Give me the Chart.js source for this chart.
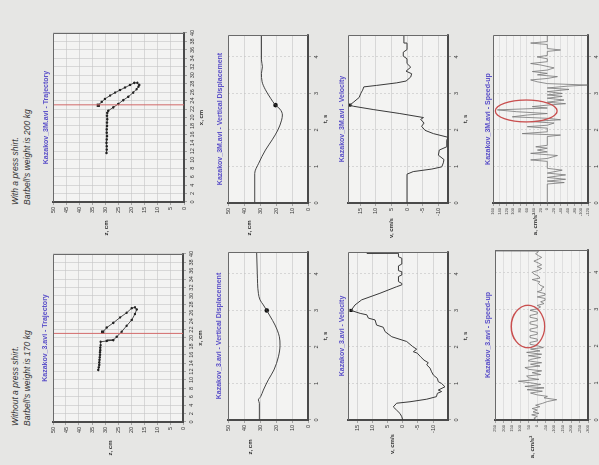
<!DOCTYPE html>
<html>
<head>
<meta charset="utf-8">
<title>Kazakov bench press - trajectory, displacement, velocity, speed-up</title>
<script src="https://cdn.jsdelivr.net/npm/chart.js@4.4.1/dist/chart.umd.min.js"></script>
<style>
  html, body { margin: 0; padding: 0; }
  body { width: 599px; height: 465px; overflow: hidden; position: relative; background: #e6e6e4;
         font-family: "Liberation Sans", Arial, sans-serif; }
  .rot { position: absolute; transform-origin: 0 0; }
  .rot canvas { position: absolute; left: 0; top: 0; }
  .lbl { position: absolute; transform: translate(-50%, -50%); white-space: nowrap; line-height: 1; }
  .ttl { color: #5a4fc8; font-size: 7px; font-weight: bold; }
  .axt { color: #333; font-size: 6px; font-weight: bold; }
  .note { position: absolute; left: 0; font-style: italic; font-size: 8.5px; line-height: 10px; color: #333; white-space: nowrap; }
</style>
</head>
<body>
<script>
/* Scanned page, turned a quarter turn: every panel is drawn upright and then
   rotated -90deg, so "x" of each chart runs bottom-to-top on the page. */

// ---- shared ticks ----
const trajXTicks = [0, 2, 4, 6, 8, 10, 12, 14, 16, 18, 20, 22, 24, 26, 28, 30, 32, 34, 36, 38, 40];
const trajZTicks = [0, 5, 10, 15, 20, 25, 30, 35, 40, 45, 50];
const vdZTicks = [0, 10, 20, 30, 40, 50];
const tTicks = [0, 1, 2, 3, 4];
const velTicks = [-10, -5, 0, 5, 10, 15];
const T_MAX = 4.6;

// ---- with a press shirt: Kazakov_3M.avi, 200 kg ----
const traj3M_x = [11.6, 12.4, 13.2, 14.0, 14.8, 15.6, 16.4, 17.2, 18.0, 18.8, 19.6, 20.4, 21.1, 21.6,
                  22.4, 23.2, 24.1, 24.9, 25.9, 26.7, 27.3, 27.7, 28.2, 28.2, 27.7, 27.1, 26.5, 25.9,
                  25.2, 24.4, 23.7, 22.9];
const traj3M_z = [29.6, 29.5, 29.5, 29.6, 29.5, 29.4, 29.5, 29.5, 29.4, 29.4, 29.3, 29.4, 29.3, 28.9,
                  27.0, 25.1, 23.2, 21.3, 19.4, 18.1, 17.4, 17.1, 17.8, 19.0, 20.6, 22.5, 24.4, 26.3,
                  28.2, 30.2, 31.4, 32.7];
const cut3M_x = 23;

const vd3M_t = [0, 0.81, 1.09, 1.45, 1.73, 2.0, 2.27, 2.41, 2.57, 2.68, 2.87, 3.1, 3.32, 3.55, 3.73, 3.92, 4.6];
const vd3M_z = [33.3, 33.3, 30.8, 26.6, 22.4, 18.8, 16.5, 16.0, 17.5, 20.3, 23.4, 26.6, 28.7, 29.1, 28.5, 29.1, 29.1];

const vel3M_t = [0, 0.79, 0.86, 0.93, 0.99, 1.1, 1.19, 1.31, 1.45, 1.54,
                 1.72, 1.8, 1.9, 1.99, 2.1, 2.19, 2.29, 2.34, 2.45, 2.56,
                 2.65, 2.68, 2.77, 2.89, 3.0, 3.09, 3.18, 3.22, 3.29, 3.34,
                 3.45, 3.54, 3.61, 3.72, 3.82, 3.95, 4.02, 4.13, 4.2, 4.36,
                 4.38, 4.6];
const vel3M_v = [0, 0, -2.0, -8.0, -11.2, -11.7, -11.9, -10.1, -10.4, -12.8,
                 -12.8, -13.2, -8.5, -5.8, -4.7, -5.5, -4.4, -5.3, 2.3, 10.9,
                 17.3, 18.4, 17.1, 15.4, 14.9, 14.3, 13.9, 9.8, 3.3, 0.3,
                 -1.2, -1.5, 0.3, -1.2, 0, 0, 1.2, 1.2, 0, 0,
                 1.0, 1.0];
const vel3M_range = [-13.2, 19.0];

const acc3M_t = [0, 0.52, 0.56, 0.6, 0.65, 0.7, 0.77, 0.82, 0.9, 0.95,
                 1.14, 1.18, 1.22, 1.3, 1.36, 1.4, 1.45, 1.5, 1.54, 1.58,
                 1.82, 1.86, 1.9, 1.95, 2.05, 2.09, 2.13, 2.19, 2.23, 2.28,
                 2.32, 2.36, 2.41, 2.45, 2.5, 2.55, 2.6, 2.64, 2.68, 2.72,
                 2.76, 2.82, 2.87, 2.92, 2.96, 3.0, 3.05, 3.11, 3.15, 3.2,
                 3.23, 3.27, 3.32, 3.37, 3.41, 3.46, 3.51, 3.55, 3.6, 3.64,
                 3.7, 3.78, 3.82, 3.87, 3.95, 4.0, 4.04, 4.15, 4.19, 4.23,
                 4.34, 4.38, 4.42, 4.6];
const acc3M_a = [0, 0, -50, 0, -54, 0, -54, 0, -44, 0,
                 0, 49, 0, -30, 49, 0, 29, 0, 34, 0,
                 0, -39, 74, 0, 0, 59, 0, -20, 49, -39,
                 0, 103, 59, 0, 90, 147, 0, 44, 0, -54,
                 0, -49, 0, -44, 0, -44, 0, -64, 0, -60,
                 -118, 0, 30, 49, 0, -30, 29, 0, 44, 0,
                 -20, 20, 49, 0, 0, 30, 0, 0, -39, 0,
                 0, 49, 0, 0];
const acc3MTicks = [-120, -100, -80, -60, -40, -20, 0, 20, 40, 60, 80, 100, 120, 140, 160];

const peak3M = { t: 2.68, z: 20.3, v: 18.4 };
const ring3M = { t: 2.52, tr: 0.30, a: 62, ar: 91 };

// ---- without a press shirt: Kazakov_3.avi, 170 kg ----
const traj3_x = [12.4, 13.0, 13.6, 14.2, 14.8, 15.4, 16.0, 16.6, 17.1, 17.7, 18.3, 19.1, 19.3, 19.5,
                 20.3, 21.5, 22.9, 24.3, 25.7, 26.8, 27.3, 27.1, 26.0, 24.9, 23.6, 22.5, 21.4];
const traj3_z = [32.6, 32.4, 32.2, 32.2, 32.1, 32.0, 31.9, 31.9, 31.8, 31.8, 31.7, 31.7, 29.3, 26.8,
                 25.5, 23.6, 21.7, 19.7, 18.5, 17.8, 18.5, 19.7, 21.7, 24.2, 26.8, 29.3, 30.9];
const cut3_x = 21.1;

const vd3_t = [0, 0.46, 0.55, 0.64, 0.82, 1.1, 1.37, 1.73, 2.05, 2.28, 2.6, 2.85, 3.0, 3.15, 3.29, 3.47, 4.02, 4.6];
const vd3_z = [30.4, 30.4, 31.0, 29.6, 27.9, 24.8, 21.3, 18.5, 17.5, 17.9, 20.6, 23.8, 25.8, 27.9, 30.0, 31.0, 31.7, 32.1];

const vel3_t = [0, 0.09, 0.18, 0.27, 0.36, 0.46, 0.5, 0.57, 0.64, 0.73,
                0.78, 0.82, 0.91, 1.0, 1.05, 1.14, 1.23, 1.32, 1.42, 1.51,
                1.57, 1.64, 1.73, 1.83, 1.87, 1.94, 2.01, 2.15, 2.28, 2.42,
                2.54, 2.6, 2.74, 2.79, 2.88, 2.92, 3.0, 3.15, 3.29, 3.47,
                3.65, 3.7, 3.74, 3.79, 3.93, 3.97, 4.06, 4.09, 4.22, 4.27,
                4.43, 4.47, 4.55, 4.565, 4.58, 4.6];
const vel3_v = [0, 0.3, 0.9, 2.0, 3.1, 2.0, -2.4, -7.9, -11.1, -11.4,
                -12.8, -11.7, -13.9, -12.8, -11.7, -11.4, -10.1, -9.5, -9.0, -7.9,
                -8.4, -7.0, -5.9, -4.8, -3.5, -4.6, -3.3, -1.3, 3.6, 5.8,
                6.4, 8.6, 9.1, 11.3, 11.8, 14.0, 17.0, 15.7, 13.5, 7.5,
                2.0, 0.3, 0.3, 1.4, 1.4, 0.3, 0.3, 1.4, 1.4, 0.3,
                0.3, 1.4, 1.4, 11.8, 1.4, 1.4];
const vel3_range = [-14.9, 18.0];

const acc3_t = [0, 0.05, 0.1, 0.14, 0.18, 0.22, 0.27, 0.31, 0.36, 0.4,
                0.45, 0.5, 0.55, 0.6, 0.64, 0.68, 0.73, 0.78, 0.82, 0.87,
                0.91, 0.96, 1.0, 1.05, 1.1, 1.14, 1.19, 1.23, 1.28, 1.33,
                1.37, 1.42, 1.46, 1.51, 1.55, 1.6, 1.64, 1.69, 1.74, 1.78,
                1.83, 1.87, 1.92, 1.96, 2.01, 2.05, 2.1, 2.14, 2.19, 2.23,
                2.28, 2.32, 2.37, 2.41, 2.46, 2.5, 2.56, 2.6, 2.65, 2.69,
                2.74, 2.78, 2.83, 2.87, 2.92, 2.97, 3.01, 3.06, 3.1, 3.15,
                3.2, 3.24, 3.29, 3.33, 3.38, 3.42, 3.47, 3.51, 3.56, 3.6,
                3.65, 3.7, 3.74, 3.8, 3.84, 3.9, 3.95, 4.0, 4.05, 4.1,
                4.15, 4.2, 4.25, 4.3, 4.35, 4.4, 4.45, 4.5, 4.55, 4.57,
                4.58, 4.59, 4.6];
const acc3_a = [0, 20, 0, 33, -10, 25, 0, 30, -15, 10,
                -30, -60, -115, -40, -60, 0, 40, -30, 60, -40,
                73, -20, 30, 112, -10, 50, 63, -20, 30, -26,
                50, 73, -16, 40, -26, 53, 40, -20, 53, -26,
                63, -16, 40, -36, 0, 43, 43, 0, 0, 43,
                43, 0, 0, 43, 43, 0, 0, 43, 43, 0,
                0, 43, 43, 0, 0, 43, 0, -20, 0, -40,
                -20, -46, -46, 0, -46, -46, 0, -26, -26, -40,
                -16, -6, -16, 30, -16, -6, 20, 30, -6, -26,
                0, -26, -6, 20, -6, -26, -6, 10, -6, 0,
                600, -600, 0];
const acc3Ticks = [-300, -250, -200, -150, -100, -50, 0, 50, 100, 150, 200, 250];

const peak3 = { t: 3.0, z: 25.8, v: 17.0 };
const ring3 = { t: 2.53, tr: 0.575, a: 55, ar: 99 };

// ---------------------------------------------------------------------------
Chart.defaults.font.family = '"Liberation Sans", Arial, sans-serif';
Chart.defaults.animation = false;

function pts(xs, ys) { return xs.map((x, i) => ({ x, y: ys[i] })); }

function addLabel(parent, cls, text, u, v) {
  const d = document.createElement('div');
  d.className = 'lbl ' + cls;
  d.textContent = text;
  d.style.left = u + 'px';
  d.style.top = v + 'px';
  parent.appendChild(d);
}

// box: page rect of the rotated panel (L,T and its page height W, page width H)
// plot: page rect of the plotting area
function panel(box, plot, txt) {
  const div = document.createElement('div');
  div.className = 'rot';
  div.style.left = box.L + 'px';
  div.style.top = box.T + 'px';
  div.style.width = box.W + 'px';
  div.style.height = box.H + 'px';
  div.style.transform = `translateY(${box.W}px) rotate(-90deg)`;
  const cv = document.createElement('canvas');
  cv.width = box.W; cv.height = box.H;
  div.appendChild(cv);
  const p = {
    cv, W: box.W, H: box.H,
    a1: box.T + box.W - plot.y2, a2: box.T + box.W - plot.y1,
    b1: plot.x1 - box.L, b2: plot.x2 - box.L
  };
  const uMid = (p.a1 + p.a2) / 2;
  addLabel(div, 'ttl', txt.title, uMid, txt.titleX - box.L);
  addLabel(div, 'axt', txt.xTitle, uMid, p.b2 + 17);
  addLabel(div, 'axt', txt.yTitle, p.a1 - txt.yOff, txt.yTitleX - box.L);
  document.body.appendChild(div);
  return p;
}

function note(L, T, W, lines) {
  const div = document.createElement('div');
  div.className = 'rot';
  div.style.left = L + 'px';
  div.style.top = T + 'px';
  div.style.width = W + 'px';
  div.style.height = '30px';
  div.style.transform = `translateY(${W}px) rotate(-90deg)`;
  lines.forEach((s, i) => {
    const d = document.createElement('div');
    d.className = 'note';
    d.style.top = (4 + i * 12) + 'px';
    d.textContent = s;
    div.appendChild(d);
  });
  document.body.appendChild(div);
}

function axis(min, max, ticks, o = {}) {
  return {
    type: 'linear', min, max,
    afterBuildTicks: s => { s.ticks = ticks.map(v => ({ value: v })); },
    ticks: { font: { size: o.font || 5.5 }, color: '#3a3a3a', padding: 2,
             maxRotation: 0, minRotation: 0, autoSkip: false },
    grid: { color: o.grid || '#c4c4c4', lineWidth: 0.6, tickLength: 3, tickColor: '#777', tickWidth: 0.6 },
    border: { color: '#4a4a4a', width: 2, dash: o.dash || [] }
  };
}

const sheet = {
  id: 'sheet',
  beforeDraw(c) {
    const a = c.chartArea, ctx = c.ctx;
    ctx.save();
    ctx.fillStyle = '#f3f3f2';
    ctx.fillRect(a.left, a.top, a.right - a.left, a.bottom - a.top);
    ctx.restore();
  },
  afterDraw(c) {
    const a = c.chartArea, ctx = c.ctx;
    ctx.save();
    ctx.strokeStyle = '#6a6a6a';
    ctx.lineWidth = 1;
    ctx.beginPath();
    ctx.moveTo(a.left, a.top + 0.5); ctx.lineTo(a.right - 0.5, a.top + 0.5); ctx.lineTo(a.right - 0.5, a.bottom);
    ctx.stroke();
    ctx.restore();
  }
};

function ringPlugin(r) {
  return {
    id: 'ring',
    afterDatasetsDraw(c) {
      const xs = c.scales.x, ys = c.scales.y, ctx = c.ctx;
      const cx = xs.getPixelForValue(r.t), cy = ys.getPixelForValue(r.a);
      const rx = Math.abs(xs.getPixelForValue(r.t + r.tr) - cx);
      const ry = Math.abs(ys.getPixelForValue(r.a + r.ar) - cy);
      ctx.save();
      ctx.strokeStyle = '#c94f4f';
      ctx.lineWidth = 1.3;
      ctx.beginPath();
      ctx.ellipse(cx, cy, rx, ry, 0, 0, Math.PI * 2);
      ctx.stroke();
      ctx.restore();
    }
  };
}

function options(p, xAxis, yAxis) {
  return {
    responsive: false, animation: false, events: [],
    layout: { padding: { left: 0, top: p.b1, right: p.W - p.a2, bottom: 0 } },
    plugins: { legend: { display: false }, tooltip: { enabled: false } },
    scales: {
      x: Object.assign(xAxis, { position: 'bottom', afterFit: s => { s.height = p.H - p.b2; } }),
      y: Object.assign(yAxis, { position: 'left', afterFit: s => { s.width = p.a1; } })
    }
  };
}

function trajectory(p, xs, zs, cut) {
  const path = pts(xs, zs);
  new Chart(p.cv, {
    type: 'scatter',
    data: { datasets: [
      { data: [{ x: cut, y: 0 }, { x: cut, y: 50 }], showLine: true, borderColor: '#d26a6a', borderWidth: 1, pointRadius: 0 },
      { data: path, showLine: true, borderColor: '#3a3a3a', borderWidth: 0.9,
        pointRadius: 1.2, pointBorderWidth: 0, pointBackgroundColor: '#222' },
      { data: [path[path.length - 1]], pointStyle: 'rect', pointRadius: 2.3, pointBorderWidth: 0, pointBackgroundColor: '#151515' }
    ] },
    options: options(p, axis(0, 40, trajXTicks), axis(0, 50, trajZTicks)),
    plugins: [sheet]
  });
}

function displacement(p, ts, zs, peak) {
  new Chart(p.cv, {
    type: 'scatter',
    data: { datasets: [
      { data: pts(ts, zs), showLine: true, borderColor: '#444', borderWidth: 1, pointRadius: 0, cubicInterpolationMode: 'monotone' },
      { data: [{ x: peak.t, y: peak.z }], pointRadius: 2.3, pointBorderWidth: 0, pointBackgroundColor: '#111' }
    ] },
    options: options(p, axis(0, T_MAX, tTicks, { dash: [2, 2] }), axis(0, 50, vdZTicks)),
    plugins: [sheet]
  });
}

function velocity(p, ts, vs, range, peak) {
  new Chart(p.cv, {
    type: 'scatter',
    data: { datasets: [
      { data: pts(ts, vs), showLine: true, borderColor: '#3a3a3a', borderWidth: 1, pointRadius: 0 },
      { data: [{ x: peak.t, y: peak.v }], pointStyle: 'rect', pointRadius: 2.2, pointBorderWidth: 0, pointBackgroundColor: '#111' }
    ] },
    options: options(p, axis(0, T_MAX, tTicks, { dash: [2, 2] }), axis(range[0], range[1], velTicks)),
    plugins: [sheet]
  });
}

function speedup(p, ts, as, ticks, ring) {
  new Chart(p.cv, {
    type: 'scatter',
    data: { datasets: [
      { data: pts(ts, as), showLine: true, borderColor: '#767676', borderWidth: 0.8, pointRadius: 0 }
    ] },
    options: options(p, axis(0, T_MAX, tTicks, { dash: [2, 2] }),
                     axis(ticks[0], ticks[ticks.length - 1], ticks, { font: 4, grid: '#d2d2d2' })),
    plugins: [sheet, ringPlugin(ring)]
  });
}

// ---- page ----
note(6, 20, 185, ['With a press shirt.', "Barbell's weight is 200 kg"]);
note(6, 240, 186, ['Without a press shirt.', "Barbell's weight is 170 kg"]);

// top half: with a press shirt
trajectory(panel({ L: 34, T: 18, W: 224, H: 174 }, { x1: 53, x2: 184, y1: 33, y2: 202 },
  { title: 'Kazakov_3M.avi - Trajectory', titleX: 45, xTitle: 'x, cm', yTitle: 'z, cm', yOff: 26, yTitleX: 106 }),
  traj3M_x, traj3M_z, cut3M_x);
displacement(panel({ L: 210, T: 18, W: 224, H: 122 }, { x1: 228, x2: 308, y1: 35, y2: 203 },
  { title: 'Kazakov_3M.avi - Vertical Displacement', titleX: 219, xTitle: 't, s', yTitle: 'z, cm', yOff: 25, yTitleX: 249 }),
  vd3M_t, vd3M_z, peak3M);
velocity(panel({ L: 332, T: 18, W: 224, H: 140 }, { x1: 348, x2: 448, y1: 35, y2: 203 },
  { title: 'Kazakov_3M.avi - Velocity', titleX: 341, xTitle: 't, s', yTitle: 'v, cm/s', yOff: 25, yTitleX: 391 }),
  vel3M_t, vel3M_v, vel3M_range, peak3M);
speedup(panel({ L: 478, T: 18, W: 224, H: 132 }, { x1: 493, x2: 588, y1: 35, y2: 203 },
  { title: 'Kazakov_3M.avi - Speed-up', titleX: 487, xTitle: 't, s', yTitle: 'a, cm/s²', yOff: 21, yTitleX: 535 }),
  acc3M_t, acc3M_a, acc3MTicks, ring3M);

// bottom half: without a press shirt
trajectory(panel({ L: 34, T: 236, W: 229, H: 174 }, { x1: 53, x2: 183, y1: 254, y2: 422 },
  { title: 'Kazakov_3.avi - Trajectory', titleX: 44, xTitle: 'x, cm', yTitle: 'z, cm', yOff: 26, yTitleX: 110 }),
  traj3_x, traj3_z, cut3_x);
displacement(panel({ L: 210, T: 236, W: 229, H: 122 }, { x1: 228, x2: 308, y1: 252, y2: 420 },
  { title: 'Kazakov_3.avi - Vertical Displacement', titleX: 218, xTitle: 't, s', yTitle: 'z, cm', yOff: 27, yTitleX: 250 }),
  vd3_t, vd3_z, peak3);
velocity(panel({ L: 332, T: 236, W: 229, H: 140 }, { x1: 348, x2: 448, y1: 252, y2: 420 },
  { title: 'Kazakov_3.avi - Velocity', titleX: 341, xTitle: 't, s', yTitle: 'v, cm/s', yOff: 24, yTitleX: 392 }),
  vel3_t, vel3_v, vel3_range, peak3);
speedup(panel({ L: 478, T: 236, W: 229, H: 132 }, { x1: 495, x2: 588, y1: 250, y2: 420 },
  { title: 'Kazakov_3.avi - Speed-up', titleX: 487, xTitle: 't, s', yTitle: 'a, cm/s²', yOff: 27, yTitleX: 532 }),
  acc3_t, acc3_a, acc3Ticks, ring3);
</script>
</body>
</html>
